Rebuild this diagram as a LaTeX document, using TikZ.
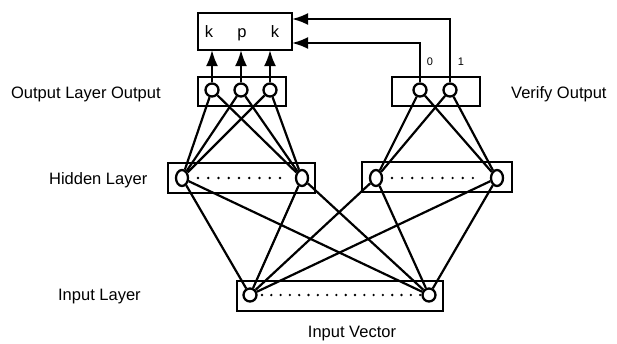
\documentclass[tikz,border=0pt]{standalone}
\usepackage{fontspec}
\setmainfont{Liberation Sans}
\usetikzlibrary{arrows.meta,shapes.geometric}
\begin{document}
\begin{tikzpicture}[x=1pt,y=-1pt,
  line width=2.3pt,
  lbl/.style={font=\fontsize{16.5}{19}\selectfont, inner sep=0pt},
  small/.style={font=\fontsize{11}{13}\selectfont, inner sep=0pt},
  unit/.style={draw, circle, minimum size=13pt, inner sep=0pt, line width=2.3pt},
  hunit/.style={draw, ellipse, minimum width=12pt, minimum height=16pt, inner sep=0pt, line width=2.3pt},
  layerbox/.style={draw, line width=2.3pt},
  conn/.style={line width=2.2pt},
  arr/.style={line width=2.3pt, -{Latex[length=16pt,width=12pt]}},
]
\useasboundingbox (0,0) rectangle (617,343);

% boxes
\draw[layerbox] (198,13) rectangle (292,50);
\coordinate (kin1) at (292,19);
\coordinate (kin2) at (292,43);
\draw[layerbox] (198,77) rectangle (286,106);
\draw[layerbox] (392,77) rectangle (480,106);
\draw[layerbox] (168,163) rectangle (315,193);
\draw[layerbox] (362,162) rectangle (512,192);
\draw[layerbox] (237,281) rectangle (443,311);

% letters
\node[lbl, anchor=base] (k1) at (209,37) {k};
\node[lbl, anchor=base] (p1) at (242,37) {p};
\node[lbl, anchor=base] (k2) at (275,37) {k};
\coordinate (kb1) at (212,50);
\coordinate (kb2) at (241,50);
\coordinate (kb3) at (270,50);

% units
\node[unit] (o1) at (212,90) {};
\node[unit] (o2) at (241,90) {};
\node[unit] (o3) at (270,90) {};
\node[unit] (v0) at (420,90) {};
\node[unit] (v1) at (450,90) {};
\node[hunit] (h1) at (182,178) {};
\node[hunit] (h2) at (302,178) {};
\node[hunit] (h3) at (376,178) {};
\node[hunit] (h4) at (497,178) {};
\node[unit] (i1) at (250,295) {};
\node[unit] (i2) at (429,295) {};

% dots
\foreach \x in {0,...,8} {
  \fill ({198+\x*10.25},178) circle (1.3pt);
  \fill ({392+\x*10.1},178) circle (1.3pt);
}
\foreach \x in {0,...,17} {
  \fill ({262+\x*9.3},295) circle (1.3pt);
}

% labels
\node[lbl, anchor=west] (lo) at (10,94) {Output Layer Output};
\node[lbl, anchor=west] (lv) at (510,94) {Verify Output};
\node[lbl, anchor=west] (lh) at (48,180) {Hidden Layer};
\node[lbl, anchor=west] (li) at (57,297) {Input Layer};
\node[lbl] (lvec) at (352,334) {Input Vector};
\node[small] (n0) at (430,62) {0};
\node[small] (n1) at (461,62) {1};

% arrows up
\draw[arr] (o1.north) -- (kb1);
\draw[arr] (o2.north) -- (kb2);
\draw[arr] (o3.north) -- (kb3);
\draw[arr] (v1.north) |- (kin1);
\draw[arr] (v0.north) |- (kin2);

% connections
\foreach \a in {o1,o2,o3} { \foreach \b in {h1,h2} { \draw[conn] (\a) -- (\b); } }
\foreach \a in {v0,v1} { \foreach \b in {h3,h4} { \draw[conn] (\a) -- (\b); } }
\foreach \a in {h1,h2,h3,h4} { \foreach \b in {i1,i2} { \draw[conn] (\a) -- (\b); } }
\end{tikzpicture}
\end{document}
